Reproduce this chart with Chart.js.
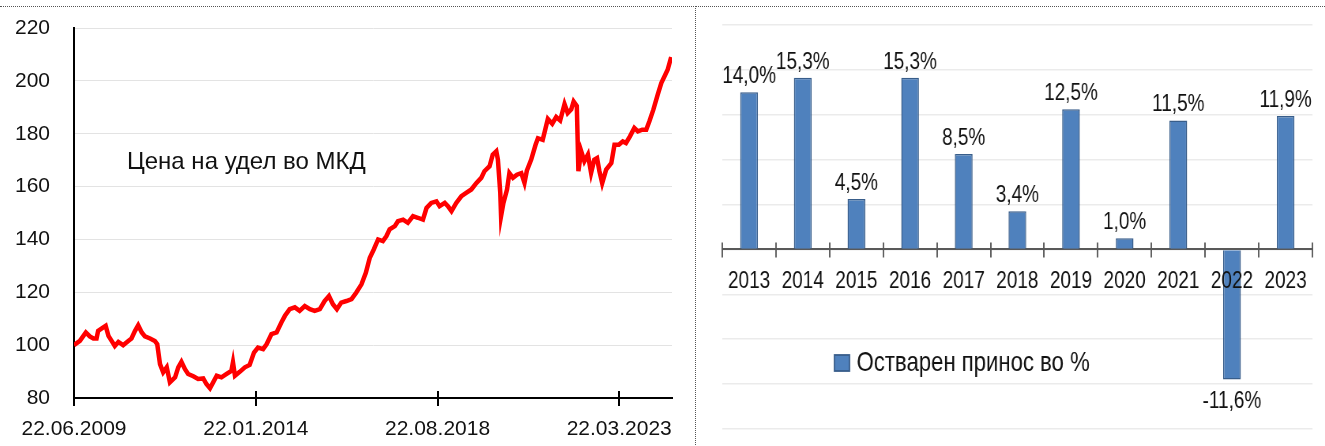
<!DOCTYPE html>
<html>
<head>
<meta charset="utf-8">
<script src="https://cdn.jsdelivr.net/npm/chart.js@4.4.0/dist/chart.umd.min.js"></script>
<style>
  html, body { margin: 0; padding: 0; background: #fff; }
  #wrap { position: relative; width: 1325px; height: 446px; overflow: hidden; }
  #leftBox { position: absolute; left: 0; top: 0; width: 696px; height: 446px; }
  /* the right panel is horizontally squeezed in the original */
  #rightBox { position: absolute; left: 697px; top: 0; width: 795px; height: 446px; transform: scaleX(0.79); transform-origin: 0 0; }
  #frameL { position: absolute; left: 0; top: 6px; width: 695px; height: 446px; border-top: 1px dotted #555; border-right: 1px dotted #555; }
  #frameR { position: absolute; left: 696px; top: 6px; width: 629px; height: 1px; border-top: 1px dotted #555; }
</style>
</head>
<body>
<div id="wrap">
  <div id="leftBox"><canvas id="priceChart"></canvas></div>
  <div id="rightBox"><canvas id="returnChart"></canvas></div>
  <div id="frameL"></div>
  <div id="frameR"></div>
</div>
<script>
// price per unit (decimal year -> MKD)
const priceYears = [
  2009.47, 2009.62, 2009.77, 2009.87, 2009.96, 2010.04, 2010.08, 2010.21, 2010.27, 2010.34,
  2010.42, 2010.50, 2010.59, 2010.71, 2010.84, 2010.92, 2011.01, 2011.09, 2011.18, 2011.26,
  2011.39, 2011.51, 2011.57, 2011.64, 2011.72, 2011.81, 2011.89, 2012.02, 2012.10, 2012.18,
  2012.27, 2012.35, 2012.48, 2012.60, 2012.73, 2012.81, 2012.90, 2012.98, 2013.07, 2013.19,
  2013.32, 2013.44, 2013.48, 2013.53, 2013.65, 2013.78, 2013.90, 2014.01, 2014.11, 2014.24,
  2014.33, 2014.45, 2014.58, 2014.70, 2014.79, 2014.91, 2015.04, 2015.16, 2015.29, 2015.42,
  2015.54, 2015.67, 2015.79, 2015.90, 2016.00, 2016.10, 2016.21, 2016.34, 2016.47, 2016.59,
  2016.72, 2016.83, 2016.93, 2017.03, 2017.14, 2017.26, 2017.35, 2017.43, 2017.56, 2017.64,
  2017.77, 2017.89, 2018.02, 2018.14, 2018.27, 2018.36, 2018.48, 2018.61, 2018.69, 2018.82,
  2018.90, 2018.99, 2019.11, 2019.24, 2019.36, 2019.49, 2019.62, 2019.74, 2019.82, 2019.95,
  2020.03, 2020.12, 2020.16, 2020.22, 2020.24, 2020.30, 2020.39, 2020.45, 2020.54, 2020.64,
  2020.75, 2020.83, 2020.89, 2021.00, 2021.11, 2021.17, 2021.29, 2021.42, 2021.53, 2021.63,
  2021.73, 2021.84, 2021.92, 2022.01, 2022.07, 2022.15, 2022.19, 2022.26, 2022.34, 2022.43,
  2022.51, 2022.59, 2022.66, 2022.72, 2022.79, 2022.89, 2023.02, 2023.10, 2023.21, 2023.31,
  2023.39, 2023.49, 2023.60, 2023.69, 2023.80, 2023.90, 2023.98, 2024.08, 2024.19, 2024.28,
  2024.38, 2024.44, 2024.53
];
const priceValues = [
  100.0, 101.6, 104.8, 103.3, 102.5, 102.5, 105.4, 106.7, 107.3, 103.5,
  101.6, 99.7, 101.2, 100.0, 101.6, 102.5, 105.4, 107.5, 104.8, 103.3,
  102.5, 101.6, 100.4, 92.8, 89.7, 91.6, 85.9, 87.8, 91.6, 93.7,
  90.9, 89.1, 88.2, 87.2, 87.4, 85.3, 83.7, 85.9, 88.4, 87.8,
  89.1, 90.3, 93.5, 88.4, 89.9, 91.6, 92.5, 97.2, 99.1, 98.5,
  100.4, 104.2, 104.8, 108.6, 111.1, 113.6, 114.3, 113.0, 114.8, 113.6,
  113.0, 113.6, 116.7, 118.6, 115.5, 113.6, 116.1, 116.7, 117.4, 119.9,
  123.0, 127.4, 133.1, 136.2, 140.0, 139.4, 141.3, 143.8, 145.0, 146.9,
  147.5, 146.3, 148.8, 148.2, 147.5, 151.9, 153.8, 154.4, 152.6, 153.8,
  152.6, 150.7, 153.8, 156.4, 157.6, 158.9, 161.4, 163.3, 165.8, 167.7,
  172.1, 173.4, 170.2, 157.6, 148.8, 153.8, 158.9, 165.1, 163.3, 164.5,
  165.1, 161.4, 166.0, 170.2, 175.8, 178.3, 177.7, 185.6, 183.8, 186.3,
  185.0, 191.2, 187.8, 189.2, 192.2, 190.5, 165.8, 173.4, 169.6, 172.1,
  165.2, 170.2, 170.8, 165.8, 161.3, 166.4, 168.9, 175.8, 175.8, 177.1,
  176.5, 179.0, 182.2, 180.9, 181.5, 181.5, 184.7, 189.1, 194.8, 199.2,
  202.3, 204.2, 209.0
];
const priceTickDates = ['22.06.2009', '22.01.2014', '22.08.2018', '22.03.2023'];
const priceAxisEnd = 2024.55;
const priceLabel = 'Цена на удел во МКД';

// yearly return
const returnYears = ['2013', '2014', '2015', '2016', '2017', '2018', '2019', '2020', '2021', '2022', '2023'];
const returnValues = [14.0, 15.3, 4.5, 15.3, 8.5, 3.4, 12.5, 1.0, 11.5, -11.6, 11.9];
const returnLabel = 'Остварен принос во %';

const FONT = "'Liberation Sans', Arial, sans-serif";
const TEXT = '#111';

function toYear(s) {
	const [d, m, y] = s.split('.').map(Number);
	const t = Date.UTC(y, m - 1, d), a = Date.UTC(y, 0, 1), b = Date.UTC(y + 1, 0, 1);
	return y + (t - a) / (b - a);
}

// Left: price line
const priceExtras = {
	id: 'priceExtras',
	afterDraw(chart) {
		const { ctx, chartArea, scales: { x } } = chart;
		ctx.save();
		ctx.strokeStyle = '#000';
		ctx.lineWidth = 2;
		x.ticks.forEach(t => {
			const px = Math.round(x.getPixelForValue(t.value));
			ctx.beginPath();
			ctx.moveTo(px, chartArea.bottom - 7);
			ctx.lineTo(px, chartArea.bottom + 8);
			ctx.stroke();
		});
		ctx.fillStyle = TEXT;
		ctx.font = '24px ' + FONT;
		ctx.textBaseline = 'middle';
		ctx.fillText(priceLabel, chartArea.left + 53, chartArea.top + 134);
		ctx.restore();
	}
};

new Chart(document.getElementById('priceChart'), {
	type: 'line',
	data: {
		datasets: [{
			label: priceLabel,
			data: priceYears.map((x, i) => ({ x, y: priceValues[i] })),
			borderColor: '#ff0000',
			borderWidth: 4.5,
			pointRadius: 0,
			tension: 0
		}]
	},
	options: {
		responsive: true,
		maintainAspectRatio: false,
		animation: false,
		layout: { padding: { top: 28, right: 24, left: 0, bottom: 0 } },
		plugins: { legend: { display: false }, tooltip: { enabled: false } },
		scales: {
			x: {
				type: 'linear',
				min: toYear(priceTickDates[0]),
				max: priceAxisEnd,
				afterBuildTicks: s => { s.ticks = priceTickDates.map(d => ({ value: toYear(d) })); },
				afterFit: s => { s.height = 48; s.paddingLeft = 0; s.paddingRight = 0; },
				grid: { display: false },
				border: { color: '#000', width: 2 },
				ticks: {
					autoSkip: false,
					maxRotation: 0,
					padding: 11,
					color: TEXT,
					font: { family: FONT, size: 21 },
					callback: (v, i) => priceTickDates[i]
				}
			},
			y: {
				min: 80,
				max: 220,
				afterFit: s => { s.width = 74; s.paddingTop = 0; s.paddingBottom = 0; },
				grid: { color: '#e3e3e3', lineWidth: 1, drawTicks: false },
				border: { color: '#000', width: 2 },
				ticks: {
					stepSize: 20,
					padding: 24,
					color: TEXT,
					font: { family: FONT, size: 21 }
				}
			}
		}
	},
	plugins: [priceExtras]
});

// Right: yearly returns (drawn in a 1/0.79 wider space, squeezed by CSS)
const returnExtras = {
	id: 'returnExtras',
	afterDraw(chart) {
		const { ctx, chartArea, scales: { x } } = chart;
		const meta = chart.getDatasetMeta(0);
		const axisY = chart.scales.y.getPixelForValue(0);
		ctx.save();
		// crossing tick marks at category boundaries
		ctx.strokeStyle = '#595959';
		ctx.lineWidth = 1.9;
		for (let i = 0; i <= returnYears.length; i++) {
			const px = Math.round(x.getPixelForValue(i - 0.5));
			ctx.beginPath();
			ctx.moveTo(px, axisY - 7);
			ctx.lineTo(px, axisY + 8);
			ctx.stroke();
		}
		// category labels, above the bars like in the original
		ctx.fillStyle = TEXT;
		ctx.font = '24px ' + FONT;
		ctx.textAlign = 'center';
		ctx.textBaseline = 'top';
		returnYears.forEach((lbl, i) => ctx.fillText(lbl, x.getPixelForValue(i), axisY + 20));
		// value labels
		meta.data.forEach((bar, i) => {
			const v = returnValues[i];
			const txt = v.toFixed(1).replace('.', ',') + '%';
			if (v >= 0) {
				ctx.textBaseline = 'alphabetic';
				ctx.fillText(txt, bar.x, bar.y - 9);
			} else {
				ctx.textBaseline = 'top';
				ctx.fillText(txt, bar.x, bar.y + 10);
			}
		});
		// legend
		const lx = chartArea.left + 142, ly = chartArea.top + 338;
		ctx.fillStyle = '#4f81bd';
		ctx.strokeStyle = '#385d8a';
		ctx.lineWidth = 1.8;
		ctx.fillRect(lx, ly - 8, 19, 16);
		ctx.strokeRect(lx, ly - 8, 19, 16);
		ctx.fillStyle = TEXT;
		ctx.font = '28px ' + FONT;
		ctx.textAlign = 'left';
		ctx.textBaseline = 'middle';
		ctx.fillText(returnLabel, lx + 28, ly);
		ctx.restore();
	}
};

new Chart(document.getElementById('returnChart'), {
	type: 'bar',
	data: {
		labels: returnYears,
		datasets: [{
			label: returnLabel,
			data: returnValues,
			backgroundColor: '#4f81bd',
			borderColor: '#385d8a',
			borderWidth: 1.5,
			barPercentage: 0.33,
			categoryPercentage: 1
		}]
	},
	options: {
		responsive: true,
		maintainAspectRatio: false,
		animation: false,
		layout: { padding: { top: 25, right: 16, left: 32, bottom: 17 } },
		plugins: { legend: { display: false }, tooltip: { enabled: false } },
		scales: {
			x: {
				position: { y: 0 },
				grid: { display: false },
				border: { color: '#595959', width: 2 },
				ticks: { display: false }
			},
			y: {
				min: -16,
				max: 20,
				afterFit: s => { s.width = 0; },
				grid: { color: '#ebebeb', lineWidth: 1.5, drawTicks: false },
				border: { display: false },
				ticks: { stepSize: 4, display: false }
			}
		}
	},
	plugins: [returnExtras]
});
</script>
</body>
</html>
